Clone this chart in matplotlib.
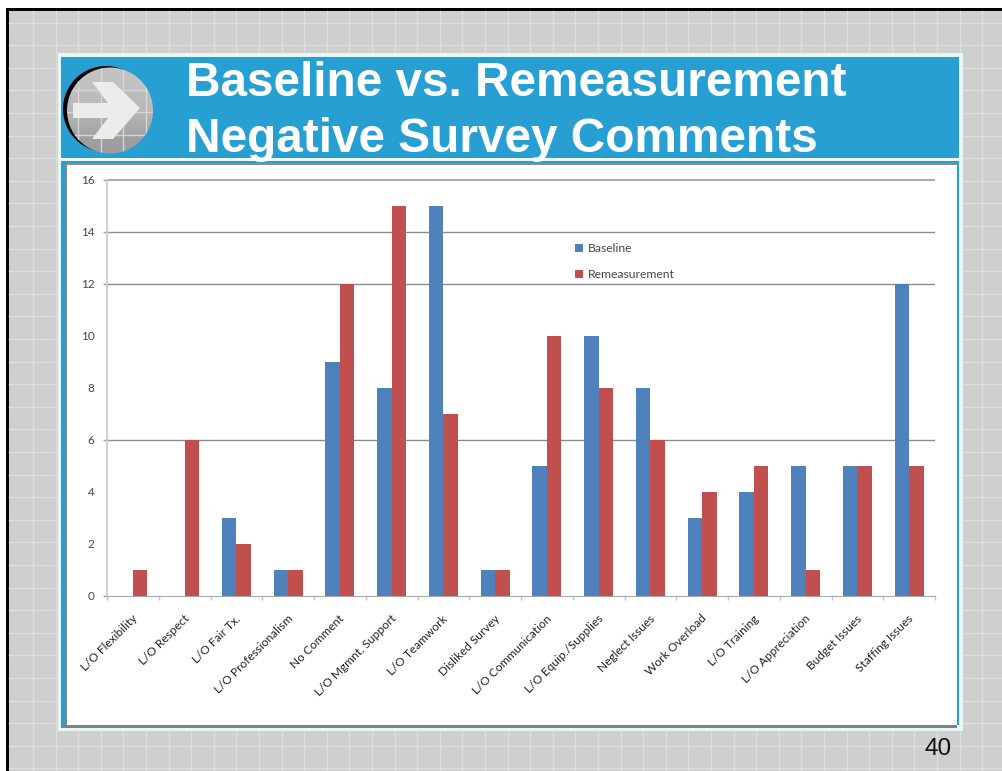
import matplotlib
matplotlib.use("Agg")
import matplotlib.pyplot as plt
from matplotlib.patches import Rectangle, Circle, Polygon
import numpy as np

categories = ["L/O Flexibility", "L/O Respect", "L/O Fair Tx.", "L/O Professionalism",
              "No Comment", "L/O Mgmnt. Support", "L/O Teamwork", "Disliked Survey",
              "L/O Communication", "L/O Equip./Supplies", "Neglect Issues", "Work Overload",
              "L/O Training", "L/O Appreciation", "Budget Issues", "Staffing Issues"]
baseline = [0, 0, 3, 1, 9, 8, 15, 1, 5, 10, 8, 3, 4, 5, 5, 12]
remeasurement = [1, 6, 2, 1, 12, 15, 7, 1, 10, 8, 6, 4, 5, 1, 5, 5]
y_ticks = [0, 2, 4, 6, 8, 10, 12, 14, 16]
# the scan only shows some of the gridlines
grid_values = [6, 12, 14, 16]

W, H = 1003, 771
fig = plt.figure(figsize=(W / 100, H / 100), dpi=100)

# slide background, drawn in pixel coords
bg = fig.add_axes([0, 0, 1, 1])
bg.set_xlim(0, W)
bg.set_ylim(H, 0)
bg.axis("off")

def box(x0, y0, x1, y1, color, z=1):
    bg.add_patch(Rectangle((x0, y0), x1 - x0, y1 - y0, fc=color, ec="none", zorder=z))

box(0, 0, W, H, "white")
box(6, 8, W, H, "black")
box(9, 11, W, H, "#cfcfcf")
for x in np.arange(33, W, 22.6):
    bg.plot([x, x], [11, H], color="#dedede", lw=1, zorder=2)
for y in np.arange(22.5, H, 22.6):
    bg.plot([9, W], [y, y], color="#dedede", lw=1, zorder=2)

# panel
box(58, 53, 963, 731, "#e6f8f6", 3)
box(61, 57, 959, 725, "#279fd3", 4)
box(61, 158, 959, 161, "#f2fbfb", 5)
box(66, 163, 957, 725, "#8a8a8a", 5)
box(61, 725, 957, 728, "#808080", 5)
box(67, 165, 957, 725, "white", 6)

# arrow badge
bg.add_patch(Circle((106, 109), 43, fc="black", ec="none", zorder=7))
disc = Circle((110, 110.5), 43, fc="none", ec="none", zorder=8)
bg.add_patch(disc)
shade = bg.imshow(np.array([[0.76], [0.72], [0.62]]), cmap="gray", vmin=0, vmax=1,
                  extent=(66, 154, 154, 67), aspect="auto", zorder=8, interpolation="bilinear")
shade.set_clip_path(disc)
bg.set_xlim(0, W)
bg.set_ylim(H, 0)
for x in (78, 101, 123, 146):
    ln, = bg.plot([x, x], [66, 154], color="#d8d4d4", lw=1, zorder=9)
    ln.set_clip_path(disc)
for y in (90, 112, 135):
    ln, = bg.plot([66, 154], [y, y], color="#d8d4d4", lw=1, zorder=9)
    ln.set_clip_path(disc)
bg.add_patch(Polygon([(73, 103), (108, 103), (92, 82), (113, 82), (140, 108),
                      (113, 139), (92, 139), (108, 118), (73, 118)],
                     fc="#ececec", ec="none", zorder=10))

bg.text(186, 83, "Baseline vs. Remeasurement", color="white", fontsize=34.4,
        fontweight="bold", family="Liberation Sans", va="center", ha="left", zorder=11)
bg.text(186, 140, "Negative Survey Comments", color="white", fontsize=34.4,
        fontweight="bold", family="Liberation Sans", va="center", ha="left", zorder=11)
bg.text(938, 749, "40", color="#111111", fontsize=17.5, family="Liberation Sans",
        va="center", ha="center", zorder=11)

# chart
left, right, top, bottom = 107, 935, 180, 596
ax = fig.add_axes([left / W, 1 - bottom / H, (right - left) / W, (bottom - top) / H])
ax.patch.set_alpha(0)
ax.set_zorder(5)

pos = np.arange(len(categories))
bw = 0.28
ax.bar(pos - bw / 2, baseline, bw, color="#4f81bd", label="Baseline", zorder=3)
ax.bar(pos + bw / 2, remeasurement, bw, color="#c0504d", label="Remeasurement", zorder=3)

ax.set_xlim(-0.5, len(categories) - 0.5)
ax.set_ylim(0, 16)
ax.set_yticks(y_ticks)
ax.set_xticks(np.arange(len(categories) + 1) - 0.5)
ax.set_xticklabels([])
ax.tick_params(axis="x", length=3, color="#c4c4c4", width=1)
ax.tick_params(axis="y", length=3, color="#9a9a9a", width=1, labelsize=8.5,
               labelcolor="#444444", pad=6)
for lab in ax.get_yticklabels():
    lab.set_family("Lato")
for val, tick in zip(y_ticks, ax.yaxis.get_major_ticks()):
    if val not in grid_values and val != 0:
        tick.tick1line.set_visible(False)
for val in grid_values[:-1]:
    ax.axhline(val, color="#8c8c8c", lw=1, zorder=1)
ax.axhline(grid_values[-1], color="#a8a8a8", lw=1.4, zorder=1, clip_on=False, solid_capstyle="butt")
for s in ("top", "right"):
    ax.spines[s].set_visible(False)
ax.spines["left"].set_color("#cccccc")
ax.spines["left"].set_linewidth(1.3)
ax.spines["bottom"].set_color("#a8a8a8")

for i, name in enumerate(categories):
    ax.annotate(name, (i, 0), xytext=(2, -15), textcoords="offset points",
                rotation=45, rotation_mode="anchor", ha="right", va="center",
                fontsize=8.6, family="Lato", color="#222222")

ax.legend(loc="upper left", bbox_to_anchor=((575.5 - left) / (right - left), 1 - (243 - top) / (bottom - top)),
          frameon=False, prop={"family": "Lato", "size": 8.7}, labelcolor="#444444",
          handlelength=0.65, handleheight=0.65, handletextpad=0.4, labelspacing=1.25,
          borderpad=0, borderaxespad=0)

fig.savefig("out.png", dpi=100)
